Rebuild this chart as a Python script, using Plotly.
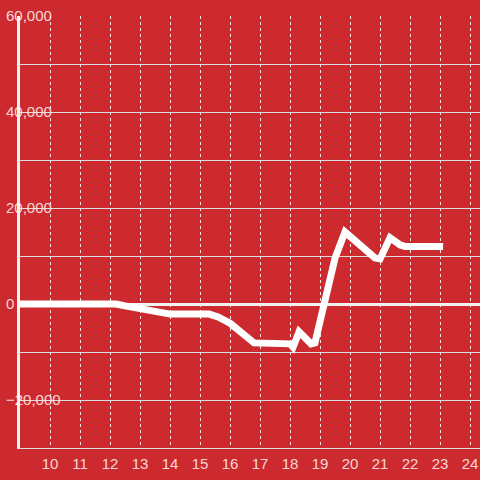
import plotly.graph_objects as go

hours = [9, 10, 11, 12, 12.2, 12.5, 13, 13.3, 14, 15.3, 15.6, 16, 16.5, 16.8, 18, 18.1, 18.3, 18.7,
         18.83, 19.1, 19.33, 19.5, 19.83, 20.83, 21, 21.33, 21.67, 21.83, 23.1]
values = [0, 0, 0, 0, 0, -400, -1000, -1250, -2100, -2100, -2700, -4000, -6500, -8100, -8300, -9000,
          -5800, -8300, -8100, -800, 6500, 9600, 15000, 9600, 9400, 13800, 12300, 12000, 12000]

x_ticks = list(range(10, 25))
y_ticks = [-20000, 0, 20000, 40000, 60000]

BG = "#cc2a2e"
TXT = "rgba(255,235,235,0.9)"
FONT = dict(family="Liberation Sans, Arial, sans-serif", size=15, color=TXT)

fig = go.Figure()
fig.add_trace(go.Scatter(x=hours, y=values, mode="lines",
                         line=dict(color="white", width=7),
                         hoverinfo="skip"))

fig.update_layout(
    width=480, height=480,
    paper_bgcolor=BG, plot_bgcolor=BG,
    margin=dict(l=20, r=0, t=16, b=32),
    showlegend=False,
    font=FONT,
)
fig.update_xaxes(
    range=[9, 24.33], tickvals=x_ticks, ticktext=[str(v) for v in x_ticks],
    showgrid=True, gridcolor="rgba(255,255,255,0.9)", griddash="dot", gridwidth=1,
    showline=True, linecolor="#dddddd", linewidth=1,
    zeroline=False, ticks="", ticklabelstandoff=2, tickfont=FONT,
    ticklabeloverflow="allow",
)
fig.update_yaxes(
    range=[-30000, 60000], tickvals=y_ticks, tickformat=",d",
    showgrid=True, gridcolor="#dddddd", gridwidth=1,
    minor=dict(dtick=10000, showgrid=True, gridcolor="#dddddd", gridwidth=1),
    zeroline=True, zerolinecolor="#f2f2f2", zerolinewidth=3,
    showline=True, linecolor="#f2f2f2", linewidth=3,
    ticks="", ticklabelposition="inside", ticklabelstandoff=-14, tickfont=FONT,
    ticklabeloverflow="allow",
)

fig.write_html("out.html", config={"displayModeBar": False},
               post_script="document.body.style.margin='0';")
